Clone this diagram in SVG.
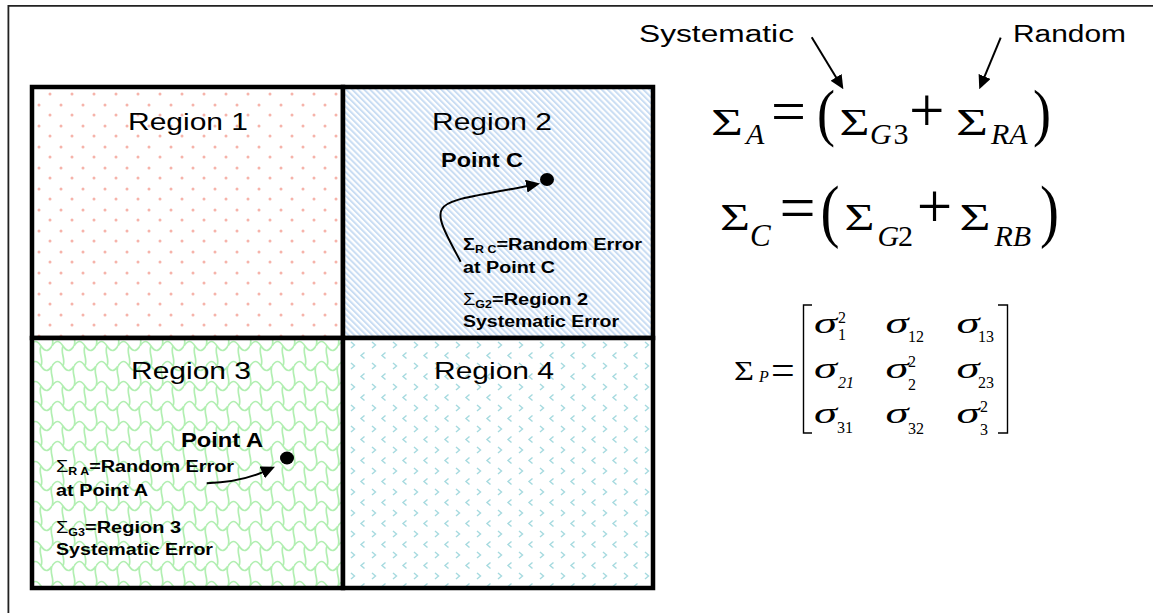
<svg xmlns="http://www.w3.org/2000/svg" width="1153" height="613" viewBox="0 0 1153 613">
<style>
.reg{font-family:"Liberation Sans",Arial,sans-serif;font-size:24px;fill:#000}
.pt{font-family:"Liberation Sans",Arial,sans-serif;font-size:20px;font-weight:bold;fill:#000}
.note{font-family:"Liberation Sans",Arial,sans-serif;font-size:16px;font-weight:bold;fill:#000}
.lbl{font-family:"Liberation Sans",Arial,sans-serif;font-size:23px;fill:#000}
.m{font-family:"Liberation Serif","Times New Roman",serif;fill:#000}
.i{font-style:italic}
.cell{stroke:#000;stroke-width:4.5}
.dot{fill:#000}
.wave{stroke:#b2efb2;stroke-width:1.7;fill:none}
</style>
<defs>
<pattern id="pDots" width="22" height="21" patternUnits="userSpaceOnUse" x="34" y="89">
<rect width="22" height="21" fill="#fff"/>
<circle cx="5" cy="16" r="1.5" fill="#f6b3aa"/>
<circle cx="16" cy="5" r="1.5" fill="#f6b3aa"/>
</pattern>
<pattern id="pStripes" width="4.2" height="4.2" patternUnits="userSpaceOnUse" patternTransform="rotate(-45)">
<rect width="4.2" height="4.2" fill="#fff"/>
<rect width="2" height="4.2" fill="#c9ddf3"/>
</pattern>
<pattern id="pWave" width="22" height="40" patternUnits="userSpaceOnUse" x="30" y="340">
<rect width="22" height="40" fill="#fff"/>
<path class="wave" d="M0 6 C4 0 7 0 11 6 S18 12 22 6 M0 26 C4 20 7 20 11 26 S18 32 22 26 M11 6 C8 13 14 19 11 26 M0 26 C-3 33 3 39 0 46 M22 26 C19 33 25 39 22 46 M0 -14 C-3 -7 3 -1 0 6 M22 -14 C19 -7 25 -1 22 6"/>
</pattern>
<pattern id="pChev" width="21" height="21" patternUnits="userSpaceOnUse" x="347" y="340">
<rect width="21" height="21" fill="#fff"/>
<path d="M4 2 L7.5 5 L4 8 M17.5 12.5 L14 15.5 L17.5 18.5" stroke="#a5dadf" stroke-width="1.4" fill="none"/>
</pattern>
<marker id="ah" viewBox="0 0 10 10" refX="1" refY="5" markerWidth="14" markerHeight="13" markerUnits="userSpaceOnUse" orient="auto" preserveAspectRatio="none">
<path d="M0 0 L10 5 L0 10 z" fill="#000"/>
</marker>
</defs>

<rect width="1153" height="613" fill="#fff"/>
<path id="frame" d="M8.4 613 V5.9 H1153" fill="none" stroke="#222" stroke-width="1.8"/>

<g id="region1">
<rect class="cell" x="32" y="87" width="311" height="251" fill="url(#pDots)"/>
<text class="reg" x="128" y="130" textLength="120" lengthAdjust="spacingAndGlyphs">Region 1</text>
</g>
<g id="region2">
<rect class="cell" x="343" y="87" width="310" height="251" fill="url(#pStripes)"/>
<text class="reg" x="432" y="130" textLength="120" lengthAdjust="spacingAndGlyphs">Region 2</text>
</g>
<g id="region3">
<rect class="cell" x="32" y="338" width="311" height="250" fill="url(#pWave)"/>
<text class="reg" x="131" y="379" textLength="120" lengthAdjust="spacingAndGlyphs">Region 3</text>
</g>
<g id="region4">
<rect class="cell" x="343" y="338" width="310" height="250" fill="url(#pChev)"/>
<text class="reg" x="434" y="379" textLength="120" lengthAdjust="spacingAndGlyphs">Region 4</text>
</g>

<g id="point-c">
<text class="pt" x="441" y="167" textLength="82" lengthAdjust="spacingAndGlyphs">Point C</text>
<ellipse class="dot" cx="547" cy="179.5" rx="7" ry="6.5"/>
</g>
<g id="note-c">
<text class="note" x="463" y="250" textLength="179" lengthAdjust="spacingAndGlyphs">Σ<tspan font-size="10" dy="2.5">R C</tspan><tspan dy="-2.5">=Random Error</tspan></text>
<text class="note" x="463" y="273" textLength="92" lengthAdjust="spacingAndGlyphs">at Point C</text>
<text class="note" x="463" y="305" textLength="125" lengthAdjust="spacingAndGlyphs"><tspan font-weight="normal">Σ</tspan><tspan font-size="10" dy="2.5">G2</tspan><tspan dy="-2.5">=Region 2</tspan></text>
<text class="note" x="463" y="327" textLength="156" lengthAdjust="spacingAndGlyphs">Systematic Error</text>
</g>

<g id="point-a">
<text class="pt" x="181" y="447" textLength="82" lengthAdjust="spacingAndGlyphs">Point A</text>
<ellipse class="dot" cx="287" cy="458" rx="7" ry="6.5"/>
</g>
<g id="note-a">
<text class="note" x="56" y="472" textLength="178" lengthAdjust="spacingAndGlyphs"><tspan font-weight="normal">Σ</tspan><tspan font-size="10" dy="2.5">R A</tspan><tspan dy="-2.5">=Random Error</tspan></text>
<text class="note" x="56" y="496" textLength="92" lengthAdjust="spacingAndGlyphs">at Point A</text>
<text class="note" x="56" y="533" textLength="125" lengthAdjust="spacingAndGlyphs"><tspan font-weight="normal">Σ</tspan><tspan font-size="10" dy="2.5">G3</tspan><tspan dy="-2.5">=Region 3</tspan></text>
<text class="note" x="56" y="555" textLength="157" lengthAdjust="spacingAndGlyphs">Systematic Error</text>
</g>

<g id="label-systematic">
<text class="lbl" x="639" y="41.5" textLength="155" lengthAdjust="spacingAndGlyphs">Systematic</text>
</g>
<g id="label-random">
<text class="lbl" x="1013" y="41.5" textLength="113" lengthAdjust="spacingAndGlyphs">Random</text>
</g>

<g id="eq-a" class="m">
<text x="711" y="135" font-size="38" textLength="32" lengthAdjust="spacingAndGlyphs">Σ</text>
<text class="i" x="746" y="144" font-size="30">A</text>
<text x="771" y="131.7" font-size="62">=</text>
<text x="817" y="133.7" font-size="64" textLength="18" lengthAdjust="spacingAndGlyphs">(</text>
<text x="839.5" y="135" font-size="38" textLength="30" lengthAdjust="spacingAndGlyphs">Σ</text>
<text x="870" y="144" font-size="30"><tspan font-style="italic">G</tspan><tspan x="893.5">3</tspan></text>
<text x="909" y="131.7" font-size="63">+</text>
<text x="956" y="135" font-size="38" textLength="32" lengthAdjust="spacingAndGlyphs">Σ</text>
<text class="i" x="991" y="144" font-size="30">RA</text>
<text x="1033" y="133.7" font-size="64" textLength="18" lengthAdjust="spacingAndGlyphs">)</text>
</g>

<g id="eq-c" class="m">
<text x="720" y="230" font-size="38" textLength="30" lengthAdjust="spacingAndGlyphs">Σ</text>
<text class="i" x="750" y="246" font-size="31">C</text>
<text x="779.5" y="228.6" font-size="64">=</text>
<text x="820.5" y="234.3" font-size="70" textLength="19" lengthAdjust="spacingAndGlyphs">(</text>
<text x="844.5" y="230" font-size="38" textLength="30" lengthAdjust="spacingAndGlyphs">Σ</text>
<text x="877.5" y="246" font-size="30"><tspan font-style="italic">G</tspan><tspan x="898">2</tspan></text>
<text x="916.8" y="228.3" font-size="63">+</text>
<text x="959.5" y="230" font-size="38" textLength="31" lengthAdjust="spacingAndGlyphs">Σ</text>
<text class="i" x="994.5" y="246" font-size="30">RB</text>
<text x="1040" y="234.3" font-size="70" textLength="19" lengthAdjust="spacingAndGlyphs">)</text>
</g>

<g id="matrix-p" class="m">
<text x="734" y="380" font-size="27" textLength="20" lengthAdjust="spacingAndGlyphs">Σ</text>
<text class="i" x="759" y="382" font-size="16">P</text>
<text x="771" y="383.5" font-size="42">=</text>
<polyline points="812,305 803.5,305 803.5,433 812,433" fill="none" stroke="#000" stroke-width="1.4"/>
<polyline points="998,305 1007.5,305 1007.5,433 998,433" fill="none" stroke="#000" stroke-width="1.4"/>
<g class="i" font-size="30">
<text x="814" y="332.5" textLength="23" lengthAdjust="spacingAndGlyphs">σ</text>
<text x="885.5" y="332.5" textLength="23" lengthAdjust="spacingAndGlyphs">σ</text>
<text x="956.5" y="332.5" textLength="23" lengthAdjust="spacingAndGlyphs">σ</text>
<text x="814" y="378" textLength="23" lengthAdjust="spacingAndGlyphs">σ</text>
<text x="885.5" y="378" textLength="23" lengthAdjust="spacingAndGlyphs">σ</text>
<text x="956.5" y="378" textLength="23" lengthAdjust="spacingAndGlyphs">σ</text>
<text x="814" y="423" textLength="23" lengthAdjust="spacingAndGlyphs">σ</text>
<text x="885.5" y="423" textLength="23" lengthAdjust="spacingAndGlyphs">σ</text>
<text x="956.5" y="423" textLength="23" lengthAdjust="spacingAndGlyphs">σ</text>
</g>
<g font-size="16">
<text x="838" y="323">2</text>
<text x="838" y="340">1</text>
<text x="908" y="342">12</text>
<text x="978" y="342">13</text>
<text class="i" x="838" y="387.5">21</text>
<text x="908" y="367">2</text>
<text x="908" y="390">2</text>
<text x="978" y="388">23</text>
<text x="837" y="433">31</text>
<text x="908" y="434">32</text>
<text x="980" y="412">2</text>
<text x="980" y="435">3</text>
</g>
</g>

<g id="connectors" fill="none" stroke="#000" stroke-width="2">
<path d="M811.7 37.3 L836.8 78.5" marker-end="url(#ah)"/>
<path d="M1000.7 37.7 L984.1 77.7" marker-end="url(#ah)"/>
<path d="M460.7 261.7 C448 238 436 218 442 209 C448 199 470 197 527.7 185.9" marker-end="url(#ah)"/>
<path d="M206.7 483.3 Q240.7 482 263.5 471.8" marker-end="url(#ah)"/>
</g>
</svg>
